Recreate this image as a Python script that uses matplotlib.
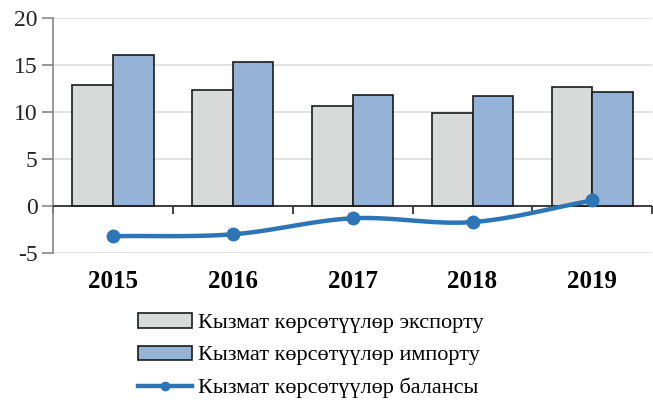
import numpy as np
import matplotlib
matplotlib.use("Agg")
from matplotlib import pyplot as plt
from matplotlib.patches import Patch
from matplotlib.lines import Line2D

years = ["2015", "2016", "2017", "2018", "2019"]
export = [12.9, 12.3, 10.6, 9.9, 12.7]
imports = [16.1, 15.3, 11.8, 11.7, 12.1]
balance = [-3.2, -3.0, -1.3, -1.7, 0.6]

lbl_exp = "Кызмат көрсөтүүлөр экспорту"
lbl_imp = "Кызмат көрсөтүүлөр импорту"
lbl_bal = "Кызмат көрсөтүүлөр балансы"

plt.rcParams["font.family"] = ["Liberation Serif", "DejaVu Serif"]
plt.rcParams["axes.unicode_minus"] = False


def smooth(xs, ys, n=30):
    # catmull-rom curve through the points, only for drawing the smoothed line
    xs = np.asarray(xs, float)
    ys = np.asarray(ys, float)
    px = np.concatenate([[2 * xs[0] - xs[1]], xs, [2 * xs[-1] - xs[-2]]])
    py = np.concatenate([[2 * ys[0] - ys[1]], ys, [2 * ys[-1] - ys[-2]]])
    ox, oy = [], []
    t = np.linspace(0, 1, n)
    for i in range(1, len(px) - 2):
        for p, o in ((px, ox), (py, oy)):
            p0, p1, p2, p3 = p[i - 1], p[i], p[i + 1], p[i + 2]
            o.extend(0.5 * (2 * p1 + (-p0 + p2) * t
                            + (2 * p0 - 5 * p1 + 4 * p2 - p3) * t ** 2
                            + (-p0 + 3 * p1 - 3 * p2 + p3) * t ** 3))
    return ox, oy


fig = plt.figure(figsize=(6.53, 4.05), dpi=100)
ax = fig.add_axes([0.081, 0.375, 0.918, 0.581])

x = np.arange(len(years))
w = 0.34
c_exp = "#D9DADA"
c_imp = "#95B3D7"
c_bal = "#2E75B6"

ax.bar(x - w / 2, export, w, color=c_exp, edgecolor="#1a1a1a", linewidth=1.2, zorder=3)
ax.bar(x + w / 2, imports, w, color=c_imp, edgecolor="#1a1a1a", linewidth=1.2, zorder=3)
sx, sy = smooth(x, balance)
ax.plot(sx, sy, color=c_bal, linewidth=3.2, zorder=4, solid_capstyle="round")
ax.plot(x, balance, "o", color=c_bal, markersize=9, zorder=5)

ax.set_xlim(-0.5, len(years) - 0.5)
ax.set_ylim(-5, 20)
ax.set_yticks([-5, 0, 5, 10, 15, 20])
ax.yaxis.grid(True, color="#DDDDDD", linewidth=1.2, zorder=0)
ax.axhline(0, color="#222222", linewidth=1.2, zorder=3)

for s in ["top", "right", "bottom"]:
    ax.spines[s].set_visible(False)
ax.spines["left"].set_color("#888888")
ax.spines["left"].set_linewidth(1.2)
ax.tick_params(axis="y", colors="#888888", length=8, width=1.2, labelsize=17,
               labelcolor="#222222", pad=3)
ax.set_xticks(x)
ax.set_xticklabels(years, fontsize=18, fontweight="bold")
ax.tick_params(axis="x", length=0, pad=12)

# category boundary ticks on the zero line
sec = ax.secondary_xaxis(0.2)
sec.set_xticks(np.arange(len(years) + 1) - 0.5)
sec.set_xticklabels([])
sec.spines["bottom"].set_visible(False)
sec.tick_params(axis="x", length=6, width=1.2, color="#222222")

handles = [
    Patch(facecolor=c_exp, edgecolor="#1a1a1a", linewidth=1.2, label=lbl_exp),
    Patch(facecolor=c_imp, edgecolor="#1a1a1a", linewidth=1.2, label=lbl_imp),
    Line2D([0], [0], color=c_bal, linewidth=3.2, marker="o", markersize=6, label=lbl_bal),
]
fig.legend(handles=handles, loc="upper left", bbox_to_anchor=(0.212, 0.226),
           frameon=False, fontsize=16, handlelength=2.4, handleheight=0.6,
           labelspacing=0.55, handletextpad=0.3, borderaxespad=0, borderpad=0)

fig.savefig("out.png", dpi=100)
